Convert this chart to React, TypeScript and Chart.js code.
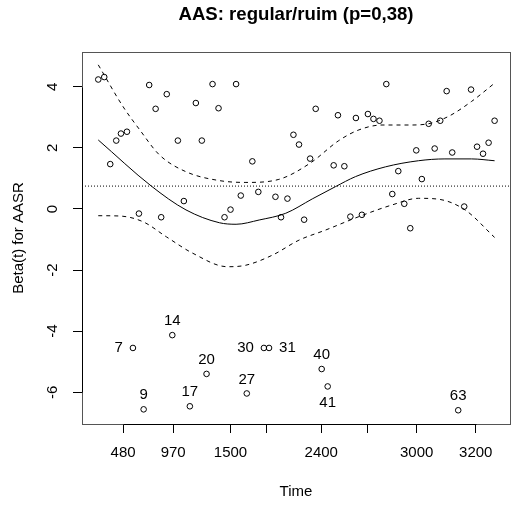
import React, { useEffect, useRef } from "react";
import { Chart, registerables } from "chart.js";

Chart.register(...registerables);

// x is the (Kaplan-Meier transformed) time scale, 0..100 across the plot
const X_TICKS = [9.6, 21.3, 34.7, 43.1, 55.9, 66.8, 78.2, 92.0];
const X_TICK_LABELS = ["480", "970", "1500", "", "2400", "", "3000", "3200"];
const Y_TICKS = [-6, -4, -2, 0, 2, 4];

const POINT_X = [3.8, 5.2, 6.6, 8.0, 9.1, 10.5, 13.3, 15.7, 17.2, 18.5, 19.8, 22.4, 23.8, 26.6, 28.0, 30.5, 31.9, 33.3, 34.7, 36.0, 37.1, 39.8, 41.2, 45.2, 46.5, 48.0, 49.4, 50.7, 51.9, 53.3, 54.6, 58.8, 59.8, 61.3, 62.7, 64.0, 65.4, 66.8, 68.1, 69.5, 71.1, 72.5, 73.9, 75.3, 76.7, 78.1, 79.4, 81.0, 82.4, 83.7, 85.2, 86.5, 89.3, 90.9, 92.3, 93.7, 95.0, 96.4];
const POINT_Y = [4.24, 4.32, 1.47, 2.24, 2.47, 2.53, -0.15, 4.06, 3.28, -0.27, 3.76, 2.24, 0.26, 3.47, 2.24, 4.09, 3.30, -0.27, -0.02, 4.09, 0.44, 1.56, 0.56, 0.40, -0.27, 0.34, 2.43, 2.11, -0.35, 1.65, 3.28, 1.43, 3.07, 1.40, -0.25, 2.98, -0.19, 3.11, 2.95, 2.89, 4.09, 0.49, 1.24, 0.17, -0.63, 1.92, 0.98, 2.79, 1.98, 2.89, 3.86, 1.85, 0.08, 3.91, 2.04, 1.81, 2.17, 2.89];

const LAB_X = [11.9, 14.4, 21.1, 25.2, 29.1, 38.5, 42.5, 43.7, 56.0, 57.4, 87.9];
const LAB_Y = [-4.55, -6.56, -4.13, -6.46, -5.40, -6.04, -4.55, -4.55, -5.24, -5.81, -6.59];
const LAB_TEXT = ["7", "9", "14", "17", "20", "27", "30", "31", "40", "41", "63"];
const LAB_POS = ["left", "above", "above", "above", "above", "above", "left", "right", "above", "below", "above"];

const FIT_X = [3.8, 16.2, 24.3, 32.1, 36.0, 41.4, 47.6, 53.8, 59.2, 63.9, 70.9, 78.6, 84.8, 91.0, 96.4];
const FIT_Y = [2.26, 0.75, -0.03, -0.45, -0.50, -0.36, -0.14, 0.33, 0.73, 1.06, 1.38, 1.58, 1.64, 1.64, 1.58];

const UPPER_X = [3.8, 9.6, 13.5, 18.1, 24.3, 32.1, 38.3, 46.0, 53.3, 60.0, 64.7, 70.1, 76.3, 80.9, 85.6, 91.0, 96.4];
const UPPER_Y = [4.72, 3.35, 2.59, 1.77, 1.22, 0.93, 0.87, 0.97, 1.50, 2.24, 2.59, 2.75, 2.75, 2.79, 3.03, 3.52, 4.12];

const LOWER_X = [3.8, 8.8, 14.3, 19.7, 25.9, 34.0, 38.3, 44.5, 50.7, 56.9, 64.7, 72.4, 78.6, 83.3, 89.5, 96.4];
const LOWER_Y = [-0.22, -0.23, -0.42, -0.91, -1.45, -1.89, -1.84, -1.51, -1.02, -0.69, -0.25, 0.13, 0.35, 0.32, -0.03, -0.93];

const COEF = 0.75;

const TITLE = "AAS: regular/ruim (p=0,38)";
const X_TITLE = "Time";
const Y_TITLE = "Beta(t) for AASR";

const FONT = "'Liberation Sans', Arial, Helvetica, sans-serif";

const zip = (xs: number[], ys: number[]) => xs.map((x, i) => ({ x, y: ys[i] }));

export default function App() {
  const ref = useRef<HTMLCanvasElement | null>(null);

  useEffect(() => {
    const canvas = ref.current;
    if (!canvas) return;

    const boxPlugin = {
      id: "boxAndLabels",
      afterDraw(chart: any) {
        const { ctx, chartArea, scales } = chart;
        ctx.save();
        ctx.lineWidth = 1;
        const l = Math.round(chartArea.left) + 0.5;
        const t = Math.round(chartArea.top) + 0.5;
        const r = Math.round(chartArea.right) + 0.5;
        const b = Math.round(chartArea.bottom) + 0.5;
        ctx.strokeStyle = "#555";
        ctx.strokeRect(l, t, r - l, b - t);

        // R-style axis lines from first to last tick
        ctx.strokeStyle = "#000";
        ctx.beginPath();
        const x0 = Math.round(scales.x.getPixelForValue(X_TICKS[0])) + 0.5;
        const x1 = Math.round(scales.x.getPixelForValue(X_TICKS[X_TICKS.length - 1])) + 0.5;
        ctx.moveTo(x0, b);
        ctx.lineTo(x1, b);
        const y0 = Math.round(scales.y.getPixelForValue(Y_TICKS[0])) + 0.5;
        const y1 = Math.round(scales.y.getPixelForValue(Y_TICKS[Y_TICKS.length - 1])) + 0.5;
        ctx.moveTo(l, y0);
        ctx.lineTo(l, y1);
        ctx.stroke();

        ctx.fillStyle = "#000";
        ctx.font = `15px ${FONT}`;
        ctx.textBaseline = "middle";
        LAB_TEXT.forEach((txt, i) => {
          const px = scales.x.getPixelForValue(LAB_X[i]);
          const py = scales.y.getPixelForValue(LAB_Y[i]);
          const pos = LAB_POS[i];
          if (pos === "left") {
            ctx.textAlign = "right";
            ctx.fillText(txt, px - 10, py);
          } else if (pos === "right") {
            ctx.textAlign = "left";
            ctx.fillText(txt, px + 10, py);
          } else if (pos === "above") {
            ctx.textAlign = "center";
            ctx.fillText(txt, px, py - 14);
          } else {
            ctx.textAlign = "center";
            ctx.fillText(txt, px, py + 16);
          }
        });
        ctx.restore();
      },
    };

    const lineDs = (data: any[], dash: number[]) => ({
      type: "scatter" as const,
      data,
      showLine: true,
      borderColor: "#000",
      borderWidth: 1,
      borderDash: dash,
      pointRadius: 0,
      cubicInterpolationMode: "monotone" as const,
      fill: false,
    });

    const chart = new Chart(canvas, {
      type: "scatter",
      data: {
        datasets: [
          {
            data: zip(POINT_X, POINT_Y),
            pointRadius: 2.8,
            pointBorderWidth: 1,
            borderColor: "#000",
            backgroundColor: "rgba(0,0,0,0)",
          },
          {
            data: zip(LAB_X, LAB_Y),
            pointRadius: 2.8,
            pointBorderWidth: 1,
            borderColor: "#000",
            backgroundColor: "rgba(0,0,0,0)",
          },
          lineDs(zip(FIT_X, FIT_Y), []),
          lineDs(zip(UPPER_X, UPPER_Y), [4, 4]),
          lineDs(zip(LOWER_X, LOWER_Y), [4, 4]),
          {
            ...lineDs([{ x: 0, y: COEF }, { x: 100, y: COEF }], [1, 2]),
            cubicInterpolationMode: "default" as const,
          },
        ] as any,
      },
      options: {
        responsive: false,
        animation: false,
        devicePixelRatio: 1,
        layout: { padding: { left: 0, right: 1, top: 0, bottom: 0 } },
        plugins: {
          legend: { display: false },
          tooltip: { enabled: false },
          title: {
            display: true,
            text: TITLE,
            fullSize: false,
            color: "#000",
            font: { family: FONT, size: 18.6, weight: "bold" },
            padding: { top: 4, bottom: 25.7 },
          },
        },
        scales: {
          x: {
            type: "linear",
            min: 0,
            max: 100,
            afterBuildTicks: (s: any) => {
              s.ticks = X_TICKS.map((v) => ({ value: v }));
            },
            afterFit: (s: any) => {
              s.height = 82;
            },
            ticks: {
              autoSkip: false,
              maxRotation: 0,
              minRotation: 0,
              padding: 11,
              color: "#000",
              font: { family: FONT, size: 15 },
              callback: (_v: any, i: number) => X_TICK_LABELS[i],
            },
            grid: { drawOnChartArea: false, tickLength: 9, color: "#000", tickColor: "#000" },
            border: { display: false },
            title: {
              display: true,
              text: X_TITLE,
              color: "#000",
              font: { family: FONT, size: 15 },
              padding: { top: 0, bottom: 5 },
            },
          },
          y: {
            type: "linear",
            min: -7.04,
            max: 5.14,
            afterBuildTicks: (s: any) => {
              s.ticks = Y_TICKS.map((v) => ({ value: v }));
            },
            afterFit: (s: any) => {
              s.width = 82;
            },
            ticks: {
              autoSkip: false,
              minRotation: 90,
              maxRotation: 90,
              crossAlign: "center",
              padding: 13,
              color: "#000",
              font: { family: FONT, size: 15 },
              callback: (v: any) => String(v),
            },
            grid: { drawOnChartArea: false, tickLength: 9, color: "#000", tickColor: "#000" },
            border: { display: false },
            title: {
              display: true,
              text: Y_TITLE,
              color: "#000",
              font: { family: FONT, size: 15 },
              padding: { top: 10, bottom: 0 },
            },
          },
        },
      } as any,
      plugins: [boxPlugin],
    });

    return () => chart.destroy();
  }, []);

  return (
    <div style={{ position: "fixed", left: 0, top: 0, width: 511, height: 506, overflow: "hidden", background: "#fff" }}>
      <canvas ref={ref} width={515} height={506} style={{ display: "block", width: 515, height: 506 }} />
    </div>
  );
}
